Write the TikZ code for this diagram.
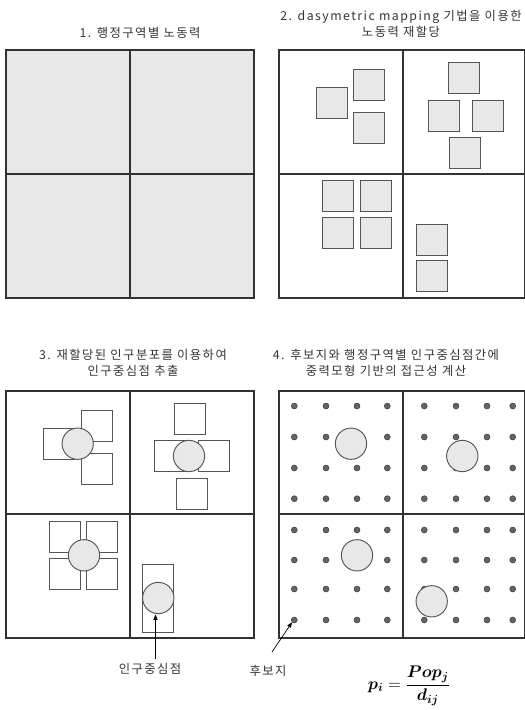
\documentclass[tikz,border=0pt]{standalone}
\usepackage{amsmath, bm}
\usepackage{fontspec}
\newfontfamily\krfont{Noto Sans CJK KR}[LetterSpace=12]
\usepackage{tikz}
\usetikzlibrary{arrows.meta, positioning}
\definecolor{soft}{RGB}{232,232,232}
\definecolor{linegray}{RGB}{50,50,50}
\definecolor{boxgray}{RGB}{85,85,85}
\definecolor{dotgray}{RGB}{100,100,100}
\definecolor{dotline}{RGB}{55,55,55}
\tikzset{
  region/.style={draw=linegray, line width=0.9pt},
  fullbox/.style={draw=boxgray, fill=soft, line width=0.8pt,
                  minimum size=9.3mm, inner sep=0pt},
  openbox/.style={fullbox, fill=white},
  centroid/.style={circle, draw=boxgray, fill=soft, line width=0.8pt,
                   minimum size=9.4mm, inner sep=0pt},
  cand/.style={circle, draw=dotline, fill=dotgray, line width=0.4pt,
               minimum size=1.8mm, inner sep=0pt},
  caption/.style={font=\krfont\fontsize{10.5}{13.5}\selectfont, align=center,
                  text=black!80},
  arr/.style={-{Triangle[length=4.5pt,width=3.5pt]}, line width=0.6pt}
}

\begin{document}
\begin{tikzpicture}[x=0.3mm, y=-0.3mm]
  \useasboundingbox (0,0) rectangle (525,710);
  % captions
  \node[caption] (t1) at (140,33) {1. 행정구역별 노동력};
  \node[caption] (t2) at (401,23.5) {2. dasymetric mapping 기법을 이용한\\노동력 재할당};
  \node[caption] (t3) at (133,362.5) {3. 재할당된 인구분포를 이용하여\\인구중심점 추출};
  \node[caption] (t4) at (386,362.5) {4. 후보지와 행정구역별 인구중심점간에\\중력모형 기반의 접근성 계산};

  % panel 1: administrative districts
  \draw[region, fill=soft] (6,50) rectangle (254,298);
  \draw[region] (130,50) -- (130,298) (6,174) -- (254,174);

  % panel 2: dasymetric blocks
  \draw[region] (279,50) rectangle (525,298);
  \draw[region] (403,50) -- (403,298) (279,174) -- (525,174);
  \node[fullbox] (b2a) at (332,102.8) {};
  \node[fullbox] (b2b) at (369,84.8) {};
  \node[fullbox] (b2c) at (369,128) {};
  \node[fullbox] (b2d) at (463.5,78) {};
  \node[fullbox] (b2e) at (444,115.8) {};
  \node[fullbox] (b2f) at (487.5,115.8) {};
  \node[fullbox] (b2g) at (464.5,152.8) {};
  \node[fullbox] (b2h) at (338.3,196.2) {};
  \node[fullbox] (b2i) at (375.7,196.2) {};
  \node[fullbox] (b2j) at (338.3,232.8) {};
  \node[fullbox] (b2k) at (375.7,232.8) {};
  \node[fullbox] (b2l) at (431.5,239.7) {};
  \node[fullbox] (b2m) at (431.5,276.3) {};

  % panel 3: population centroids
  \draw[region] (6,391) rectangle (254,638);
  \draw[region] (130,391) -- (130,638) (6,514) -- (254,514);
  \node[openbox] (b3a) at (59.2,443.7) {};
  \node[openbox] (b3b) at (96.7,425.7) {};
  \node[openbox] (b3c) at (96.7,469) {};
  \node[centroid] (c3a) at (77.7,443.7) {};
  \node[openbox] (b3d) at (190,418.8) {};
  \node[openbox] (b3e) at (170,455.8) {};
  \node[openbox] (b3f) at (213.7,455.8) {};
  \node[openbox] (b3g) at (191.8,493.5) {};
  \node[centroid] (c3b) at (189,456) {};
  \node[openbox] (b3h) at (65.2,537.2) {};
  \node[openbox] (b3i) at (102.2,537.2) {};
  \node[openbox] (b3j) at (65.2,573.8) {};
  \node[openbox] (b3k) at (102.2,573.8) {};
  \node[centroid] (c3c) at (84,555.3) {};
  \node[openbox, minimum height=20.4mm] (b3l) at (158,598.7) {};
  \node[centroid] (c3d) at (158.3,598) {};

  % panel 4: candidate sites and centroids
  \draw[region] (279,391) rectangle (525,638);
  \draw[region] (403,391) -- (403,638) (279,514) -- (525,514);
  \foreach \px [count=\i] in {294.3,326,357,387.3,424.3,456,487,512.7}
    \foreach \py [count=\j] in {406,437,468,498.7,530,560,589,620}
      \node[cand] (q4d-\i-\j) at (\px,\py) {};
  \node[centroid] (c4a) at (351,443.7) {};
  \node[centroid] (c4b) at (462.3,456) {};
  \node[centroid] (c4c) at (357,555.3) {};
  \node[centroid] (c4d) at (431.7,601.3) {};

  % pointer labels
  \node[caption] (lblc) at (150,669) {인구중심점};
  \coordinate (ctip) at (155.5,614.5);
  \draw[arr] (lblc.north -| ctip) -- (ctip);
  \node[caption] (lblh) at (268,671) {후보지};
  \coordinate (hstart) at (272,652);
  \draw[arr] (hstart) -- (q4d-1-8.south west);

  % gravity formula
  \node[font=\Large] (eq) at (409,686)
    {$\displaystyle \bm{p}_{\bm{i}} = \frac{\bm{Pop}_{\bm{j}}}{\bm{d}_{\bm{ij}}}$};
\end{tikzpicture}
\end{document}
